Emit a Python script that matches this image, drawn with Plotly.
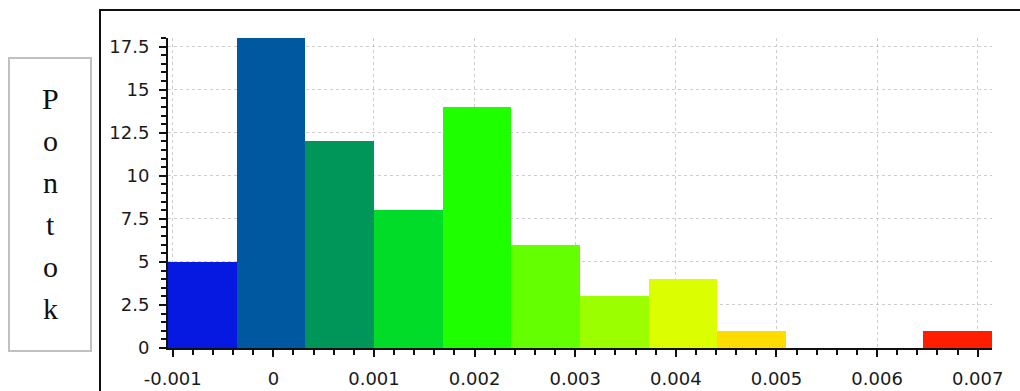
import plotly.graph_objects as go

# Histogram of values: 12 equal-width bins between the data minimum and maximum
x_min = -0.001047
x_max = 0.007142
counts = [5, 18, 12, 8, 14, 6, 3, 4, 1, 0, 0, 1]
bar_colors = ["#0519e1", "#0058a0", "#00965a", "#00dc28", "#1eff00", "#64ff00",
              "#9bff00", "#dcff00", "#ffdc00", "#ffffff", "#ffffff", "#ff1e00"]
x_ticks = [-0.001, 0, 0.001, 0.002, 0.003, 0.004, 0.005, 0.006, 0.007]
x_tick_text = ["-0.001", "0", "0.001", "0.002", "0.003", "0.004", "0.005", "0.006", "0.007"]
y_ticks = [0, 2.5, 5, 7.5, 10, 12.5, 15, 17.5]
y_tick_text = ["0", "2.5", "5", "7.5", "10", "12.5", "15", "17.5"]
y_title = "Pontok"

n_bins = len(counts)
bin_w = (x_max - x_min) / n_bins
centers = [x_min + bin_w * (i + 0.5) for i in range(n_bins)]

W, H = 1020, 391
L, R, T, B = 168, 28, 38, 43
PW, PH = W - L - R, H - T - B


def px(xp):
    return (xp - L) / PW


def py(yp):
    return (H - B - yp) / PH


fig = go.Figure()
fig.add_trace(go.Bar(
    x=centers, y=counts, width=[bin_w] * n_bins,
    marker=dict(color=bar_colors, line=dict(width=0)),
    hoverinfo="skip",
))

tick_font = dict(family="DejaVu Sans", size=18, color="#1a1a1a")

fig.update_layout(
    width=W, height=H,
    margin=dict(l=L, r=R, t=T, b=B, autoexpand=False),
    paper_bgcolor="white", plot_bgcolor="white",
    bargap=0, showlegend=False,
    xaxis=dict(
        range=[x_min, x_max], tickvals=x_ticks, ticktext=x_tick_text,
        automargin=False,
        showline=True, linecolor="#111111", linewidth=2,
        ticks="outside", ticklen=7, tickwidth=2, tickcolor="#111111",
        ticklabelstandoff=6,
        showgrid=True, gridcolor="#cdcdcd", gridwidth=1, griddash="dot",
        zeroline=False, tickfont=tick_font,
        minor=dict(dtick=0.0002, tick0=0, ticks="outside", ticklen=5,
                   tickwidth=2, tickcolor="#111111", showgrid=False),
    ),
    yaxis=dict(
        range=[0, 18], tickvals=y_ticks, ticktext=y_tick_text,
        automargin=False,
        showline=True, linecolor="#111111", linewidth=2,
        ticks="outside", ticklen=7, tickwidth=2, tickcolor="#111111",
        ticklabelstandoff=6,
        showgrid=True, gridcolor="#cdcdcd", gridwidth=1, griddash="dot",
        zeroline=False, tickfont=tick_font,
        minor=dict(dtick=0.5, tick0=0, ticks="outside", ticklen=5,
                   tickwidth=2, tickcolor="#111111", showgrid=False),
    ),
)

# Outer frame (left and top edges) and the boxed vertical axis title
fig.add_shape(type="path", xref="paper", yref="paper",
              path=f"M {px(100)},{py(395)} L {px(100)},{py(10)} L {px(1025)},{py(10)}",
              line=dict(color="#111111", width=2), layer="above")
fig.add_shape(type="rect", xref="paper", yref="paper",
              x0=px(9), x1=px(91), y0=py(351), y1=py(58),
              line=dict(color="#c0c0c0", width=2), fillcolor="white", layer="above")

baseline0, step = 110, 42
for i, ch in enumerate(y_title):
    fig.add_annotation(
        x=px(50), y=py(baseline0 + step * i + 7), xref="paper", yref="paper",
        xanchor="center", yanchor="bottom", showarrow=False, text=ch,
        font=dict(family="Liberation Serif", size=30, color="#111111"),
    )

fig.write_html("out.html")
